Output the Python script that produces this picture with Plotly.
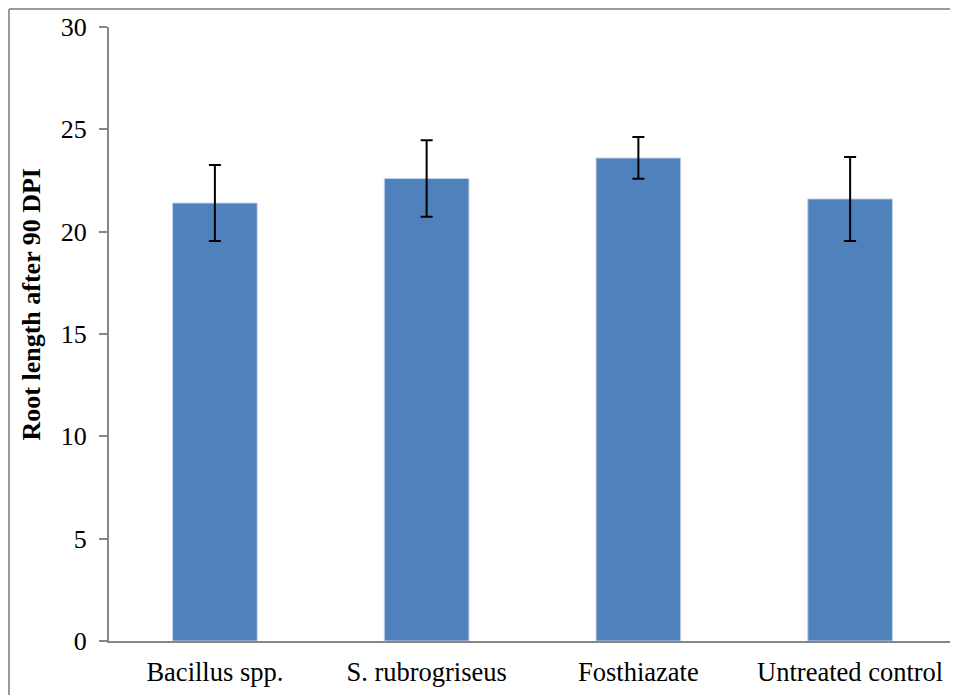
import plotly.graph_objects as go

categories = ["Bacillus spp.", "S. rubrogriseus", "Fosthiazate", "Untreated control"]
root_length = [21.4, 22.6, 23.6, 21.6]
error_values = [1.86, 1.87, 1.02, 2.05]
y_ticks = [0, 5, 10, 15, 20, 25, 30]
y_title = "Root length after 90 DPI"

W, H = 950, 687
ml, mr, mt, mb = 101, 2, 19, 54
pw = W - ml - mr
ph = H - mt - mb

fig = go.Figure()
fig.add_trace(go.Bar(
    x=categories,
    y=root_length,
    marker=dict(color="#4F81BD", line=dict(color="#C6D5EA", width=1)),
    error_y=dict(type="data", array=error_values, visible=True,
                 color="black", thickness=2, width=6),
    width=0.4,
))

gray = "#868686"
fig.update_layout(
    width=W, height=H,
    margin=dict(l=ml, r=mr, t=mt, b=mb),
    paper_bgcolor="white", plot_bgcolor="white",
    font=dict(family="Liberation Serif, Times New Roman, serif", color="black", size=26),
    showlegend=False,
    xaxis=dict(
        showline=True, linecolor=gray, linewidth=2,
        ticks="", showgrid=False, zeroline=False,
        tickfont=dict(size=26.5), ticklabelstandoff=6,
    ),
    yaxis=dict(
        range=[0, 30], tickvals=y_ticks, showgrid=False, zeroline=False,
        showline=True, linecolor=gray, linewidth=2,
        ticks="outside", ticklen=8, tickcolor=gray, tickwidth=2,
        tickfont=dict(size=26), ticklabelstandoff=7,
    ),
)

# y-axis title placed as in the reference (slightly above plot centre)
fig.add_annotation(
    text="<b>" + y_title + "</b>", textangle=-90, showarrow=False,
    xref="paper", yref="paper",
    x=(22.5 - ml) / pw, y=(633 - 297) / ph,
    xanchor="center", yanchor="middle",
    font=dict(size=26, color="black"),
)

# outer chart-area frame (top and left edges visible in reference)
x_left = (1 - ml) / pw
y_top = 1 + (mt - 1) / ph
fig.add_shape(type="line", xref="paper", yref="paper", x0=x_left, x1=1 + mr / pw,
              y0=y_top, y1=y_top, line=dict(color="#9A9A9A", width=2))
fig.add_shape(type="line", xref="paper", yref="paper", x0=x_left, x1=x_left,
              y0=y_top, y1=-mb / ph - 0.01, line=dict(color="#9A9A9A", width=2))

fig.write_html("out.html")
